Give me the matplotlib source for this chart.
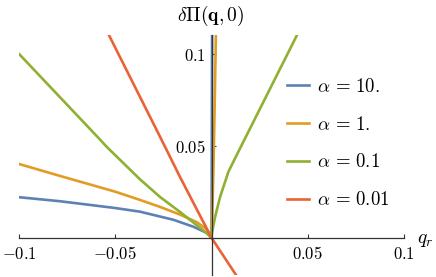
import matplotlib
matplotlib.use("Agg")
import matplotlib.pyplot as plt
from matplotlib.ticker import FixedLocator, FixedFormatter

plt.rcParams['mathtext.fontset'] = 'cm'
plt.rcParams['font.family'] = ['DejaVu Serif']

# ---- data ----
labels = [r'$\alpha\,=\,10.$', r'$\alpha\,=\,1.$', r'$\alpha\,=\,0.1$', r'$\alpha\,=\,0.01$']
colors = ['#5E81B5', '#E19C24', '#8FB032', '#EB6235']

q_a10 = [-0.1, -0.0787, -0.05, -0.0371, -0.0198, -0.0094, -0.0024, 0.0, 0.0001, 0.0002, 0.0003]
p_a10 = [0.0221, 0.0199, 0.0162, 0.0142, 0.0098, 0.0060, 0.0026, 0.0, 0.03, 0.07, 0.115]

q_a1 = [-0.1, -0.0787, -0.05, -0.0371, -0.0267, -0.0163, -0.0076, -0.0024, 0.0, 0.0004, 0.0011, 0.0017, 0.0023]
p_a1 = [0.0402, 0.0337, 0.0251, 0.0206, 0.0168, 0.0126, 0.0085, 0.0045, 0.0, 0.012, 0.042, 0.075, 0.112]

q_a01 = [-0.1, -0.0588, -0.0544, -0.0371, -0.0267, -0.0163, -0.0076, -0.0024, 0.0,
         0.0002, 0.0019, 0.0045, 0.0088, 0.0140, 0.0201, 0.0442]
p_a01 = [0.1002, 0.0545, 0.0495, 0.0318, 0.0222, 0.0140, 0.0068, 0.0024, 0.0,
         0.0025, 0.0115, 0.0224, 0.0360, 0.0470, 0.0597, 0.1100]

q_a001 = [-0.0545, -0.026, -0.0163, 0.0, 0.0135]
p_a001 = [0.113, 0.0535, 0.033, 0.0, -0.0215]

xticks = [-0.1, -0.05, 0.05, 0.1]
xticklabels = [r'$-0.1$', r'$-0.05$', r'$0.05$', r'$0.1$']
yticks = [0.05, 0.1]
yticklabels = [r'$0.05$', r'$0.1$']

# ---- figure ----
W, H = 436, 277
fig = plt.figure(figsize=(W / 100, H / 100), dpi=100)
x0, x1 = 19, 404
y0, y1 = 275, 35
ax = fig.add_axes([x0 / W, 1 - y0 / H, (x1 - x0) / W, (y0 - y1) / H])
ax.set_xlim(-0.1, 0.1)
ax.set_ylim(-0.0203, 0.1105)

series = [(q_a10, p_a10), (q_a1, p_a1), (q_a01, p_a01), (q_a001, p_a001)]
for (qq, pp), c, lab in zip(series, colors, labels):
    ax.plot(qq, pp, color=c, lw=1.9, label=lab, solid_joinstyle='round')

for s in ['top', 'right']:
    ax.spines[s].set_visible(False)
ax.spines['left'].set_position(('data', 0))
ax.spines['bottom'].set_position(('data', 0))
for s in ['left', 'bottom']:
    ax.spines[s].set_color('#333333')
    ax.spines[s].set_linewidth(0.9)

ax.xaxis.set_major_locator(FixedLocator(xticks))
ax.xaxis.set_major_formatter(FixedFormatter(xticklabels))
ax.yaxis.set_major_locator(FixedLocator(yticks))
ax.yaxis.set_major_formatter(FixedFormatter(yticklabels))
ax.tick_params(axis='both', direction='in', length=3, width=0.8, color='#333333',
               labelsize=12)
ax.tick_params(axis='x', pad=6)
ax.tick_params(axis='y', pad=4)
ax.patch.set_visible(False)

fig.text(211 / W, 1 - 16 / H, r'$\delta\Pi(\mathbf{q},0)$', ha='center', va='center', fontsize=14)
fig.text(425 / W, 1 - 240 / H, r'$q_r$', ha='center', va='center', fontsize=14)

leg = ax.legend(loc='upper left', bbox_to_anchor=(287 / W, 1 - 78 / H),
                bbox_transform=fig.transFigure, frameon=False, fontsize=13.5,
                handlelength=1.15, handletextpad=0.45, labelspacing=1.05,
                borderpad=0, borderaxespad=0)

fig.savefig('out.png', dpi=100)
